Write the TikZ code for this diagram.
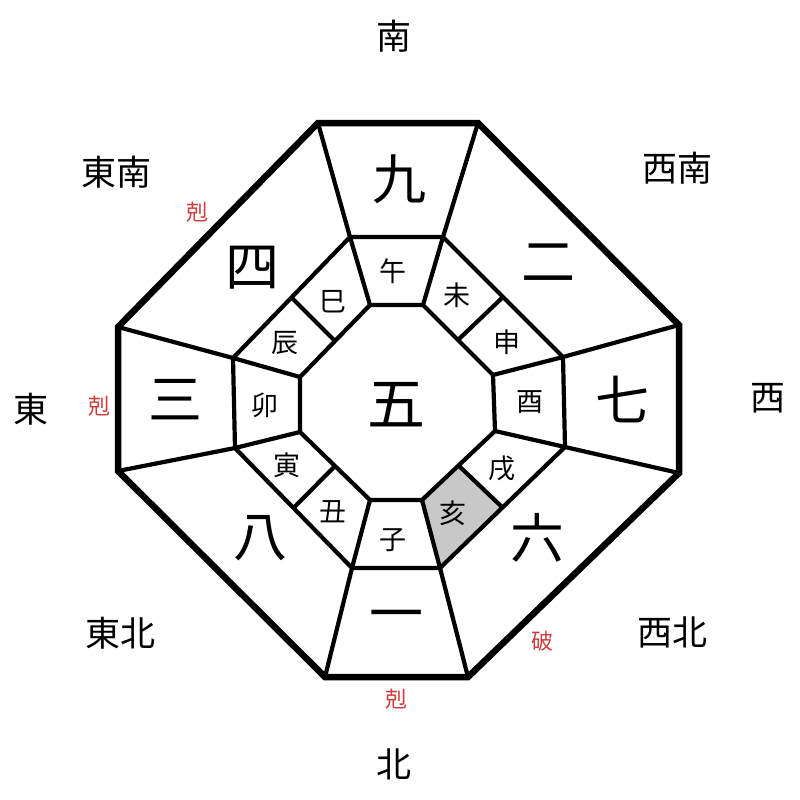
\documentclass[tikz,border=0pt]{standalone}
\usepackage{fontspec}
\setmainfont{Noto Sans CJK JP}
\usetikzlibrary{calc}
\definecolor{kokured}{RGB}{205,60,60}
\definecolor{cellgray}{RGB}{200,200,200}
\tikzset{
  outerline/.style={line width=6.5pt,line join=miter},
  innerline/.style={line width=4.2pt,line join=miter},
  dirlabel/.style={inner sep=0pt,font=\fontsize{35}{35}\selectfont},
  numlabel/.style={inner sep=0pt,font=\fontsize{54}{54}\selectfont},
  branchlabel/.style={inner sep=0pt,font=\fontsize{27}{27}\selectfont},
  redlabel/.style={inner sep=0pt,text=kokured,font=\fontsize{22}{22}\selectfont},
}
\begin{document}
\begin{tikzpicture}[x=1pt,y=-1pt]
\useasboundingbox (0,0) rectangle (800,800);
% outer octagon
\coordinate (O1) at (318,123); \coordinate (O2) at (478,123);
\coordinate (O3) at (679,325); \coordinate (O4) at (679,473);
\coordinate (O5) at (468,677); \coordinate (O6) at (325,677);
\coordinate (O7) at (118,471); \coordinate (O8) at (118,327);
% middle ring
\coordinate (M1) at (350,237); \coordinate (M2) at (443,237);
\coordinate (M3) at (563,357); \coordinate (M4) at (565,447);
\coordinate (M5) at (440,568); \coordinate (M6) at (352,568);
\coordinate (M7) at (235,448); \coordinate (M8) at (233,358);
% inner octagon
\coordinate (I1) at (370,305); \coordinate (I2) at (423,305);
\coordinate (I3) at (493,375); \coordinate (I4) at (495,431);
\coordinate (I5) at (422,500); \coordinate (I6) at (370,500);
\coordinate (I7) at (300,432); \coordinate (I8) at (300,377);
% midpoints for branch dividers
\coordinate (A1) at ($(M8)!0.5!(M1)$); \coordinate (B1) at ($(I8)!0.5!(I1)$);
\coordinate (A2) at ($(M2)!0.5!(M3)$); \coordinate (B2) at ($(I2)!0.5!(I3)$);
\coordinate (A3) at ($(M4)!0.5!(M5)$); \coordinate (B3) at ($(I4)!0.5!(I5)$);
\coordinate (A4) at ($(M6)!0.5!(M7)$); \coordinate (B4) at ($(I6)!0.5!(I7)$);
% gray cell
\fill[cellgray] (I5) -- (B3) -- (A3) -- (M5) -- cycle;
% lines
\draw[innerline] (M1)--(M2)--(M3)--(M4)--(M5)--(M6)--(M7)--(M8)--cycle;
\draw[innerline] (I1)--(I2)--(I3)--(I4)--(I5)--(I6)--(I7)--(I8)--cycle;
\foreach \k in {1,...,8} {\draw[innerline] (O\k)--(M\k)--(I\k);}
\foreach \k in {1,...,4} {\draw[innerline] (A\k)--(B\k);}
\draw[outerline] (O1)--(O2)--(O3)--(O4)--(O5)--(O6)--(O7)--(O8)--cycle;
% directions
\node[dirlabel] (s)  at (394,36)  {南};
\node[dirlabel] (se) at (116,172) {東南};
\node[dirlabel] (sw) at (677,168) {西南};
\node[dirlabel] (e)  at (31,409)  {東};
\node[dirlabel] (w)  at (768,398) {西};
\node[dirlabel] (ne) at (120,633) {東北};
\node[dirlabel] (nw) at (672,632) {西北};
\node[dirlabel] (n)  at (394,764) {北};
% red marks
\node[redlabel] (r1) at (197,212) {剋};
\node[redlabel] (r2) at (99,406)  {剋};
\node[redlabel] (r3) at (396,699) {剋};
\node[redlabel] (r4) at (542,641) {破};
% numbers
\node[numlabel] (n9) at (399,179) {九};
\node[numlabel] (n2) at (548,263) {二};
\node[numlabel] (n7) at (622,399) {七};
\node[numlabel] (n6) at (537,538) {六};
\node[numlabel] (n1) at (396,622) {一};
\node[numlabel] (n8) at (260,538) {八};
\node[numlabel] (n3) at (175,400) {三};
\node[numlabel] (n4) at (252,268) {四};
\node[numlabel,font=\fontsize{58}{58}\selectfont] (n5) at (396,405) {五};
% branches
\node[branchlabel] (b7)  at (393,271) {午};
\node[branchlabel] (b8)  at (457,295) {未};
\node[branchlabel] (b9)  at (507,342) {申};
\node[branchlabel] (b10) at (530,402) {酉};
\node[branchlabel] (b11) at (502,468) {戌};
\node[branchlabel] (b12) at (453,513) {亥};
\node[branchlabel] (b1)  at (393,540) {子};
\node[branchlabel] (b2)  at (333,512) {丑};
\node[branchlabel] (b3)  at (287,465) {寅};
\node[branchlabel] (b4)  at (265,405) {卯};
\node[branchlabel] (b5)  at (285,343) {辰};
\node[branchlabel] (b6)  at (333,302) {巳};
\end{tikzpicture}
\end{document}
